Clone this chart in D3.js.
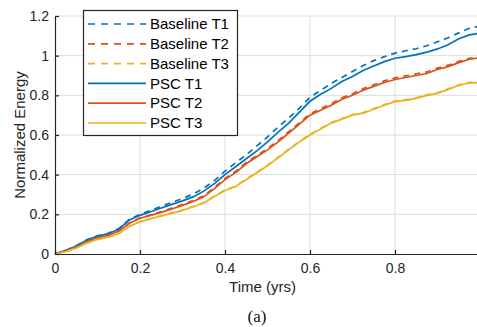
<!DOCTYPE html>
<html>
<head>
<meta charset="utf-8">
<script src="https://cdn.jsdelivr.net/npm/d3@7"></script>
<style>
  body { margin: 0; background: #fff; }
  svg { display: block; font-family: "Liberation Sans", Arial, sans-serif; }
</style>
</head>
<body>
<svg width="477" height="327"></svg>
<script>
// time axis (yrs)
let time = [0, 0.025, 0.05, 0.075, 0.1, 0.125, 0.15, 0.175, 0.2, 0.225, 0.25, 0.275, 0.3, 0.325, 0.35, 0.375, 0.4,
    0.425, 0.45, 0.475, 0.5, 0.525, 0.55, 0.575, 0.6, 0.625, 0.65, 0.675, 0.7, 0.725, 0.75, 0.775, 0.8,
    0.825, 0.85, 0.875, 0.9, 0.925, 0.95, 0.975, 1.0];

let baselineT1 = [0, 0.018, 0.042, 0.072, 0.092, 0.104, 0.128, 0.175, 0.2, 0.22, 0.24, 0.26, 0.28, 0.302, 0.332, 0.37, 0.418,
    0.46, 0.5, 0.545, 0.59, 0.64, 0.685, 0.735, 0.79, 0.825, 0.86, 0.89, 0.92, 0.95, 0.975, 0.995, 1.013,
    1.025, 1.035, 1.05, 1.07, 1.09, 1.115, 1.138, 1.15];
let baselineT2 = [0, 0.015, 0.036, 0.063, 0.083, 0.095, 0.117, 0.157, 0.182, 0.198, 0.214, 0.232, 0.25, 0.27, 0.293, 0.336, 0.381,
    0.417, 0.462, 0.497, 0.532, 0.572, 0.617, 0.662, 0.707, 0.733, 0.758, 0.788, 0.808, 0.834, 0.853, 0.873, 0.888,
    0.898, 0.908, 0.918, 0.937, 0.952, 0.971, 0.986, 0.993];
let baselineT3 = [0, 0.012, 0.03, 0.055, 0.074, 0.085, 0.103, 0.141, 0.163, 0.179, 0.193, 0.207, 0.222, 0.24, 0.259, 0.292, 0.322,
    0.343, 0.378, 0.413, 0.448, 0.488, 0.528, 0.568, 0.603, 0.633, 0.663, 0.683, 0.703, 0.713, 0.733, 0.753, 0.771,
    0.778, 0.788, 0.803, 0.813, 0.833, 0.853, 0.865, 0.868];
let pscT1 = [0, 0.018, 0.04, 0.07, 0.09, 0.102, 0.125, 0.172, 0.195, 0.213, 0.232, 0.25, 0.268, 0.288, 0.317, 0.355, 0.4,
    0.44, 0.48, 0.52, 0.565, 0.615, 0.66, 0.715, 0.77, 0.805, 0.835, 0.87, 0.895, 0.925, 0.948, 0.97, 0.987,
    0.995, 1.005, 1.018, 1.034, 1.055, 1.085, 1.105, 1.113];
let pscT2 = [0, 0.015, 0.035, 0.062, 0.082, 0.094, 0.115, 0.155, 0.18, 0.195, 0.21, 0.227, 0.245, 0.265, 0.288, 0.33, 0.375,
    0.41, 0.455, 0.49, 0.525, 0.565, 0.61, 0.655, 0.7, 0.725, 0.75, 0.78, 0.8, 0.826, 0.845, 0.865, 0.88,
    0.89, 0.9, 0.91, 0.93, 0.945, 0.965, 0.982, 0.99];
let pscT3 = [0, 0.012, 0.03, 0.055, 0.074, 0.085, 0.102, 0.14, 0.162, 0.178, 0.192, 0.205, 0.22, 0.238, 0.257, 0.29, 0.32,
    0.34, 0.375, 0.41, 0.445, 0.485, 0.525, 0.565, 0.6, 0.63, 0.66, 0.68, 0.7, 0.71, 0.73, 0.75, 0.768,
    0.775, 0.785, 0.8, 0.81, 0.83, 0.85, 0.862, 0.865];

let xTicks = [0, 0.2, 0.4, 0.6, 0.8, 1];
let yTicks = [0, 0.2, 0.4, 0.6, 0.8, 1, 1.2];

let seriesNames = ["Baseline T1", "Baseline T2", "Baseline T3", "PSC T1", "PSC T2", "PSC T3"];
let seriesValues = [baselineT1, baselineT2, baselineT3, pscT1, pscT2, pscT3];
let seriesColors = ["#0072BD", "#D95319", "#EDB120", "#0072BD", "#D95319", "#EDB120"];
let seriesDashed = [true, true, true, false, false, false];

let svg = d3.select("svg");
let margin = {top: 16, left: 55};
let width = 425;
let height = 238;
let axisColor = "#262626";

let x = d3.scaleLinear().domain([0, 1]).range([0, width]);
let y = d3.scaleLinear().domain([0, 1.2]).range([height, 0]);

let g = svg.append("g")
    .attr("transform", "translate(" + margin.left + "," + margin.top + ")");

// grid
g.append("g").selectAll("line").data(xTicks.slice(1)).enter().append("line")
    .attr("x1", d => x(d)).attr("x2", d => x(d))
    .attr("y1", 0).attr("y2", height)
    .attr("stroke", "#dcdcdc").attr("stroke-width", 1);
g.append("g").selectAll("line").data(yTicks.slice(1)).enter().append("line")
    .attr("x1", 0).attr("x2", width)
    .attr("y1", d => y(d)).attr("y2", d => y(d))
    .attr("stroke", "#dcdcdc").attr("stroke-width", 1);

// lines: baselines first, PSC on top
let line = d3.line()
    .x((d, i) => x(time[i]))
    .y(d => y(d));

seriesValues.forEach(function (vals, k) {
    g.append("path")
        .datum(vals)
        .attr("fill", "none")
        .attr("stroke", seriesColors[k])
        .attr("stroke-width", 1.7)
        .attr("stroke-dasharray", seriesDashed[k] ? "6,5" : null)
        .attr("d", line);
});

// axes
let xAxis = g.append("g")
    .attr("transform", "translate(0," + height + ")")
    .call(d3.axisBottom(x).tickValues(xTicks).tickFormat(d3.format("~g")).tickSizeInner(-4).tickSizeOuter(0).tickPadding(9));
let yAxis = g.append("g")
    .call(d3.axisLeft(y).tickValues(yTicks).tickFormat(d3.format("~g")).tickSizeInner(-4).tickSizeOuter(0).tickPadding(6));

[xAxis, yAxis].forEach(function (a) {
    a.select(".domain").attr("stroke", axisColor).attr("stroke-width", 1.2);
    a.selectAll(".tick line").attr("stroke", axisColor).attr("stroke-width", 1.2);
    a.selectAll(".tick text")
        .attr("fill", axisColor)
        .style("font-family", "'Liberation Sans', Arial, sans-serif")
        .style("font-size", "14px");
});

// axis titles
svg.append("text")
    .attr("x", margin.left + x(0.5) - 5)
    .attr("y", 292)
    .attr("text-anchor", "middle")
    .attr("fill", axisColor)
    .style("font-size", "15px")
    .text("Time (yrs)");

svg.append("text")
    .attr("transform", "translate(25," + (margin.top + height / 2) + ") rotate(-90)")
    .attr("text-anchor", "middle")
    .attr("fill", axisColor)
    .style("font-size", "15px")
    .text("Normalized Energy");

svg.append("text")
    .attr("x", 257)
    .attr("y", 322)
    .attr("text-anchor", "middle")
    .attr("fill", "#111")
    .style("font-family", "'Liberation Serif', 'Times New Roman', serif")
    .style("font-size", "17px")
    .text("(a)");

// legend
let legend = svg.append("g").attr("transform", "translate(83,10)");
legend.append("rect")
    .attr("x", 0.5).attr("y", 0.5)
    .attr("width", 154).attr("height", 125)
    .attr("fill", "#fff")
    .attr("stroke", axisColor)
    .attr("stroke-width", 1.2);

let items = legend.selectAll("g.item")
    .data(seriesNames)
    .enter().append("g")
    .attr("class", "item")
    .attr("transform", (d, i) => "translate(0," + (14 + i * 19.8) + ")");

items.append("line")
    .attr("x1", 5).attr("x2", 63)
    .attr("y1", 0).attr("y2", 0)
    .attr("stroke", (d, i) => seriesColors[i])
    .attr("stroke-width", 1.7)
    .attr("stroke-dasharray", (d, i) => seriesDashed[i] ? "7,6" : null);

items.append("text")
    .attr("x", 67)
    .attr("y", 0)
    .attr("dy", "0.35em")
    .attr("fill", "#000")
    .style("font-size", "15px")
    .text(d => d);
</script>
</body>
</html>
